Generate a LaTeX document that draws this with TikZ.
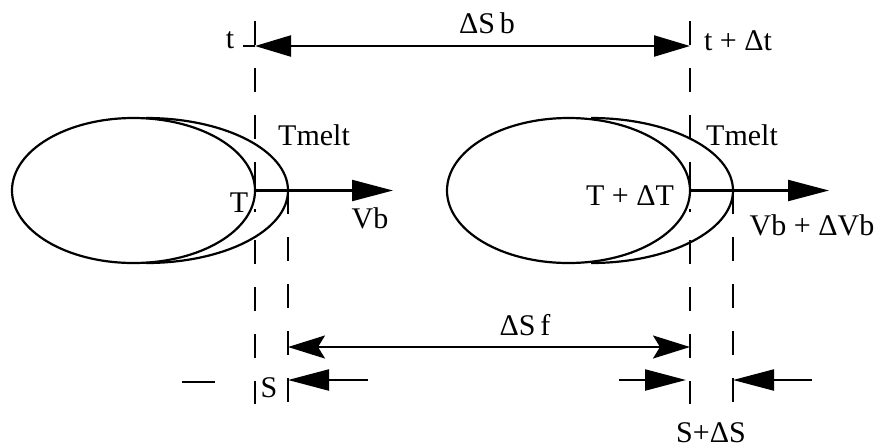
\documentclass[tikz,border=0pt]{standalone}
\usepackage{fontspec}
\setmainfont{Liberation Serif}
\usepackage{tikz}
\usetikzlibrary{arrows.meta,shapes.geometric}

\begin{document}
\begin{tikzpicture}[
    x=0.5pt, y=-0.5pt,
    line width=1.1pt,
    font=\fontsize{15}{17}\selectfont,
    lbl/.style={inner sep=0pt, anchor=base},
    drop/.style={ellipse, draw, minimum width=121.5pt, minimum height=72.5pt, inner sep=0pt},
    guide/.style={line width=1pt, dash pattern=on 12pt off 11.5pt},
    span/.style={{Triangle[length=18pt,width=10.5pt]}-{Triangle[length=18pt,width=10.5pt]}},
    gap/.style={{Stealth[length=18.5pt,width=11.5pt,inset=3.5pt]}-{Stealth[length=18.5pt,width=11.5pt,inset=3.5pt]}},
    push/.style={-{Triangle[length=20.5pt,width=10.5pt]}}
]
    \useasboundingbox (0,0) rectangle (877,446);

    % Drops
    \node[drop] (dropL) at (133.5,190.5) {};
    \node[drop] (dropR) at (568.5,190.5) {};
    \draw (146,118) arc[start angle=90, end angle=-90, x radius=71pt, y radius=36.25pt];
    \draw (591,118) arc[start angle=90, end angle=-90, x radius=71pt, y radius=36.25pt];

    % Guide lines
    \coordinate (l1top) at (255,21);  \coordinate (l1mid) at (255,212);
    \coordinate (l1low) at (255,240); \coordinate (l1bot) at (255,404);
    \coordinate (l2top) at (288,190); \coordinate (l2bot) at (288,404);
    \coordinate (l3top) at (690,21);  \coordinate (l3mid) at (690,212);
    \coordinate (l3low) at (690,240); \coordinate (l3bot) at (690,404);
    \coordinate (l4top) at (733,190); \coordinate (l4bot) at (733,404);
    \draw[guide] (l1top) -- (l1mid);
    \draw[guide] (l1low) -- (l1bot);
    \draw[guide] (l2top) -- (l2bot);
    \draw[guide] (l3top) -- (l3mid);
    \draw[guide] (l3low) -- (l3bot);
    \draw[guide] (l4top) -- (l4bot);

    % Arrow ends
    \coordinate (tstub) at (243,46);
    \coordinate (tA) at (255,46);
    \coordinate (tC) at (690,46);
    \coordinate (vL) at (393,190.5);
    \coordinate (vR) at (829,190.5);
    \coordinate (fB) at (288,347);
    \coordinate (fC) at (690,347);
    \coordinate (sBtip) at (288,380);  \coordinate (sBtail) at (368,380);
    \coordinate (sCtip) at (686,380);  \coordinate (sCtail) at (619,380);
    \coordinate (sDtip) at (733,380);  \coordinate (sDtail) at (812,380);
    \coordinate (dashA) at (182,382);  \coordinate (dashB) at (215,382);

    % Labels
    \node[lbl] (t0) at (230,48) {t};
    \node[lbl] (dsb) at (487,33) {ΔS\,b};
    \node[lbl] (t1) at (738,50) {t + Δt};
    \node[lbl] (meltL) at (314,145) {Tmelt};
    \node[lbl] (meltR) at (742,145) {Tmelt};
    \node[lbl] (tempL) at (239,212) {T};
    \node[lbl] (tempR) at (630,205) {T + ΔT};
    \node[lbl] (velL) at (370,228) {Vb};
    \node[lbl] (velR) at (812,235) {Vb + ΔVb};
    \node[lbl] (dsf) at (525,335) {ΔS\,f};
    \node[lbl] (s0) at (269,397) {S};
    \node[lbl] (s1) at (711,442) {S+ΔS};

    % Connections
    \draw (tstub) -- (tA);
    \draw[span] (tA) -- (tC);
    \draw[push] (dropL.east) -- (vL);
    \draw[push] (dropR.east) -- (vR);
    \draw[gap] (fB) -- (fC);
    \draw[push] (sBtail) -- (sBtip);
    \draw[push] (sCtail) -- (sCtip);
    \draw[push] (sDtail) -- (sDtip);
    \draw (dashA) -- (dashB);
\end{tikzpicture}
\end{document}
